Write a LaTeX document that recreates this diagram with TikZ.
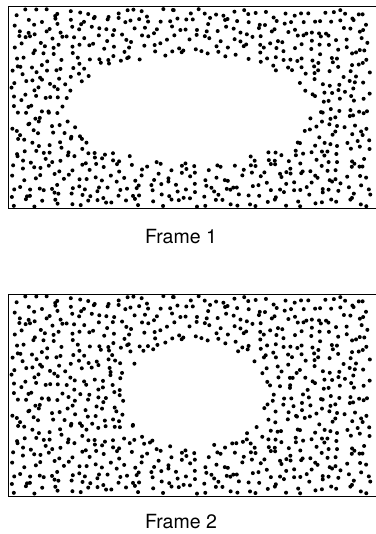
\documentclass[tikz,border=0pt]{standalone}
\usepackage{fontspec}
\setmainfont{TeX Gyre Heros}
\tikzset{
  framelabel/.style={inner sep=0pt, font=\fontsize{19.5}{23}\selectfont},
  frameline/.style={line width=1pt, black},
  speck/.style={fill=black}
}
\newcommand\dotframe[5]{%
  \pgfmathsetseed{12345}%
  \begin{scope}
    \clip (8,#1+7) rectangle (376,#1+209);
    \foreach \rw in {0,...,22}{
      \foreach \cl in {0,...,39}{
        \pgfmathsetmacro\px{11+9.0*(\cl+rnd)}
        \pgfmathsetmacro\py{#1+9+8.6*(\rw+rnd)}
        \pgfmathsetmacro\ddx{(\px-#2)/#4}
        \pgfmathsetmacro\ddy{(\py-#3)/#5}
        \pgfmathsetmacro\rr{sqrt(\ddx*\ddx+\ddy*\ddy)}
        \ifdim\rr pt<1pt\relax\else
          \fill[speck] (\px,\py) circle[radius=2pt];
        \fi
      }
    }
  \end{scope}
}
\begin{document}
\begin{tikzpicture}[x=1pt,y=-1pt]
\useasboundingbox (0,0) rectangle (375,534);
% Frame 1
\dotframe{0}{190}{109}{122}{54}
\coordinate (f1tl) at (8,7);
\coordinate (f1bl) at (8,209);
\coordinate (f1tr) at (376,7);
\coordinate (f1br) at (376,209);
\draw[frameline] (f1tr) -- (f1tl) -- (f1bl) -- (f1br);
\node[framelabel] (lab1) at (181,237) {Frame 1};
% Frame 2
\dotframe{287}{195}{394}{72}{52}
\coordinate (f2tl) at (8,294);
\coordinate (f2bl) at (8,496);
\coordinate (f2tr) at (376,294);
\coordinate (f2br) at (376,496);
\draw[frameline] (f2tr) -- (f2tl) -- (f2bl) -- (f2br);
\node[framelabel] (lab2) at (181,522) {Frame 2};
\end{tikzpicture}
\end{document}
